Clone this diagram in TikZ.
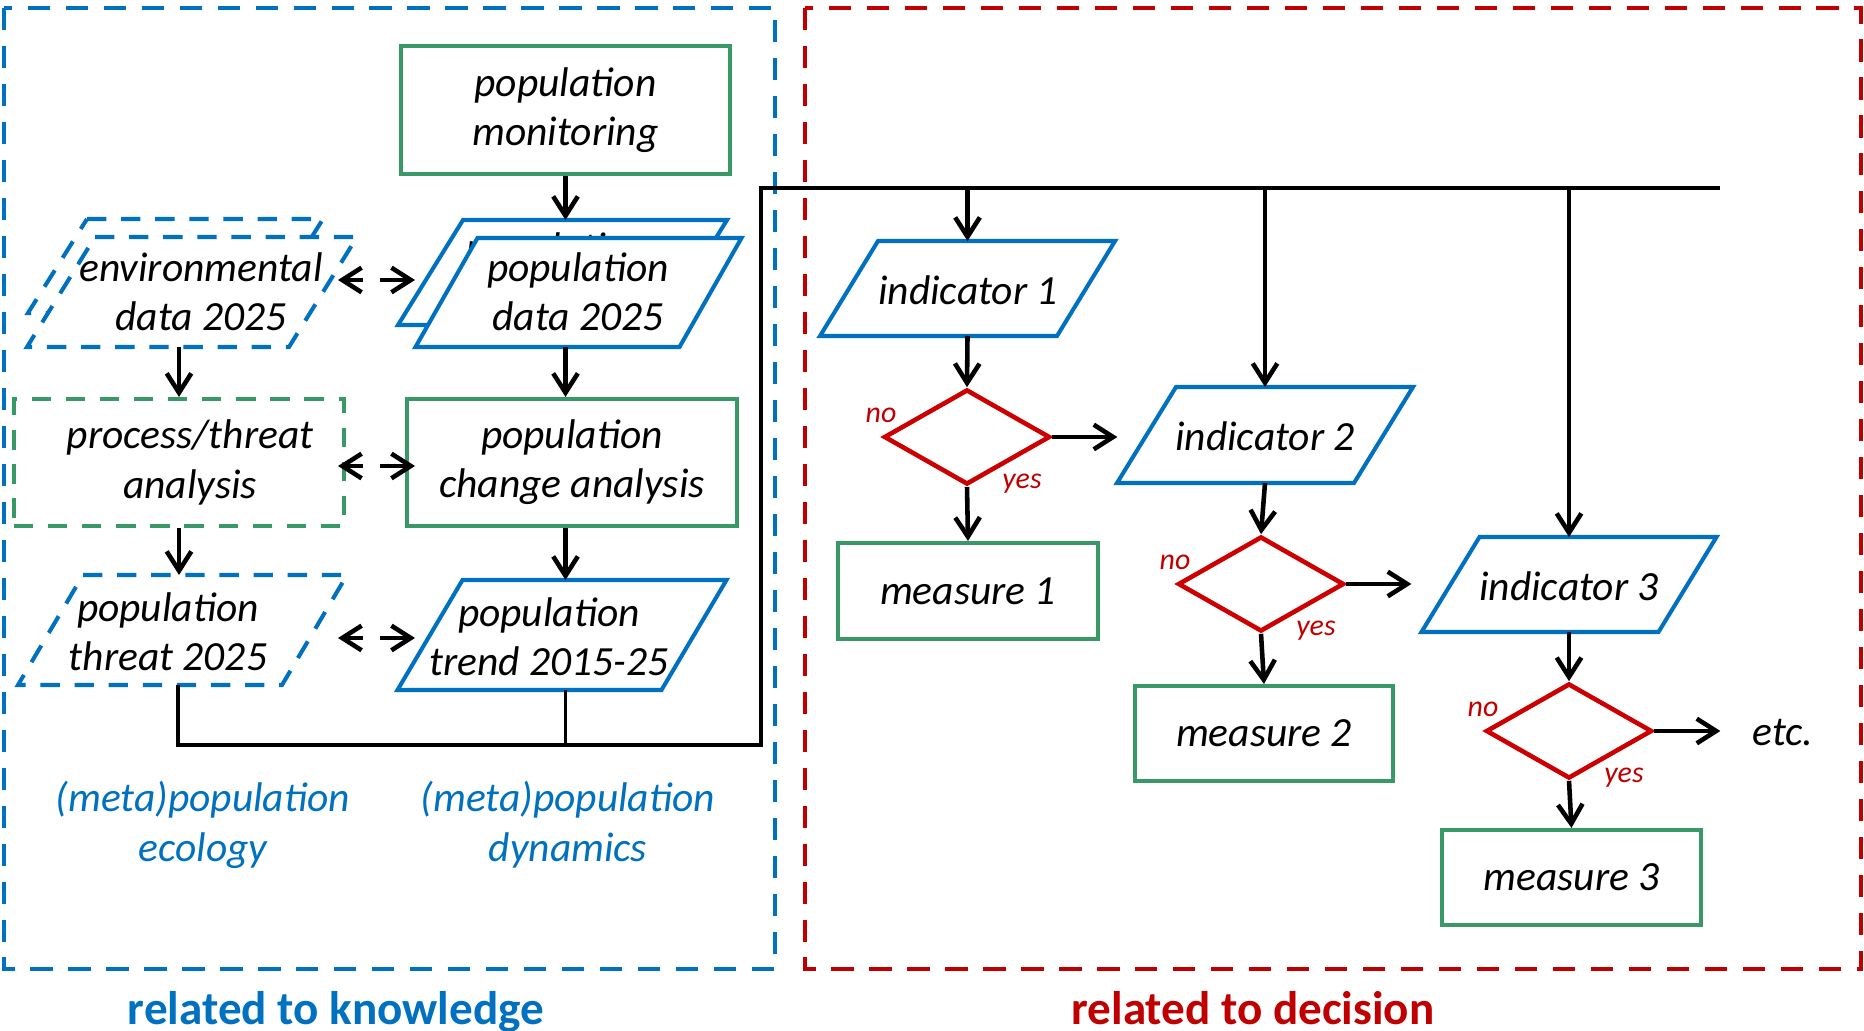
\documentclass[tikz,border=0pt]{standalone}
\usepackage{fontspec}
\setmainfont{Carlito}
\usetikzlibrary{shapes.geometric,arrows.meta,calc}

\definecolor{kblue}{RGB}{0,112,192}
\definecolor{kgreen}{RGB}{56,153,103}
\definecolor{kred}{RGB}{192,0,0}
\definecolor{dred}{RGB}{204,0,0}

% parallelogram: #1 style, #2 name, #3/#4 centre, #5 edge length, #6 height, #7 slant
\newcommand{\pgram}[7]{%
  \draw[#1] ({#3-#5/2+#7/2},{#4-#6/2}) -- ({#3+#5/2+#7/2},{#4-#6/2})
     -- ({#3+#5/2-#7/2},{#4+#6/2}) -- ({#3-#5/2-#7/2},{#4+#6/2}) -- cycle;
  \coordinate (#2-n) at ({#3},{#4-#6/2});
  \coordinate (#2-s) at ({#3},{#4+#6/2});
  \coordinate (#2-w) at ({#3-#5/2},{#4});
  \coordinate (#2-e) at ({#3+#5/2},{#4});
}

\tikzset{
  txt/.style={font=\fontsize{11.8}{14}\selectfont\itshape, align=center, inner sep=0pt},
  bl/.style={draw=kblue, line width=1.15pt, fill=white, line join=miter},
  bld/.style={bl, dash pattern=on 5.5pt off 4.2pt},
  gbox/.style={draw=kgreen, line width=1.15pt, fill=white, txt},
  gboxd/.style={gbox, dash pattern=on 5.5pt off 4.2pt},
  dia/.style={diamond, draw=dred, line width=1.3pt, inner sep=0pt, minimum width=1.66cm, minimum height=0.95cm},
  yn/.style={font=\fontsize{8.5}{10}\selectfont\itshape, text=kred, inner sep=0pt},
  arr/.style={line width=1.3pt, -{Straight Barb[length=5.5pt,width=7pt]}},
  bus/.style={line width=0.9pt},
  area/.style={line width=1.15pt, dash pattern=on 6.3pt off 4.5pt},
  lbl/.style={font=\fontsize{11.8}{14.3}\selectfont\itshape, align=center, text=kblue, inner sep=0pt},
  ttl/.style={font=\fontsize{13.4}{16}\selectfont\bfseries, anchor=base, inner sep=0pt}
}

\begin{document}
\begin{tikzpicture}[x=0.01cm, y=-0.01cm]
\useasboundingbox (0,0) rectangle (1864,1031);

% the two areas
\draw[area, draw=kblue] (4,8) rectangle (775,969);
\draw[area, draw=kred] (805,8) rectangle (1861,969);
\node[ttl, text=kblue] (tknow) at (336,1024) {related to knowledge};
\node[ttl, text=kred] (tdec) at (1253,1024) {related to decision};

% knowledge side
\node[gbox, minimum width=3.29cm, minimum height=1.28cm] (mon) at (565.5,110) {population\\monitoring};

\pgram{bl}{pdB}{562.5}{272.5}{264}{105}{65}
\node[txt] (pdBt) at (557,250) {population};
\pgram{bl}{pdF}{578.5}{292.5}{264}{109}{62}
\node[txt] (pdFt) at (578,292) {population\\data 2025};

\pgram{bld}{envB}{175.5}{266}{236}{94}{59}
\pgram{bld}{envF}{192}{292}{262}{110}{68}
\node[txt] (envt) at (201,292) {environmental\\data 2025};

\node[gboxd, minimum width=3.30cm, minimum height=1.27cm] (proc) at (179,462.5) {\hspace*{0.22cm}process/threat\\\hspace*{0.22cm}analysis};
\node[gbox, minimum width=3.30cm, minimum height=1.27cm] (chg) at (572,462.5) {population\\change analysis};

\pgram{bld}{thr}{182.5}{630}{264}{110}{65}
\node[txt] (thrt) at (168,632) {population\\threat 2025};
\pgram{bl}{trd}{562}{635}{264}{110}{65}
\node[txt] (trdt) at (549,637) {population\\trend 2015-25};

\node[lbl] (ecol) at (203,825) {(meta)population\\ecology};
\node[lbl] (dyn) at (568,825) {(meta)population\\dynamics};

% vertical flow on the knowledge side
\draw[arr] (mon.south) -- (mon.south |- pdB-n);
\draw[arr] (mon.south |- pdF-s) -- (mon.south |- chg.north);
\draw[arr] (mon.south |- chg.south) -- (mon.south |- trd-n);
\draw[arr] (proc.north |- envF-s) -- (proc.north);
\draw[arr] (proc.south) -- (proc.south |- thr-n);

% two-way links
\foreach \yy/\nm in {280/a, 466/b, 638/c}{
  \coordinate (u\nm) at (363,\yy);
  \coordinate (v\nm) at (380,\yy);
  \draw[arr] (u\nm) -- ++(-25,0);
  \draw[arr] (v\nm) -- ++(35,0);
}

% collecting line towards the indicators
\coordinate (cBL) at (178,745);
\coordinate (cBR) at (761,745);
\coordinate (cTR) at (761,188);
\coordinate (busEnd) at (1720,188);
\draw[bus] (cBL |- thr-s) -- (cBL) -- (cBR) -- (cTR) -- (busEnd);
\draw[bus] (mon.south |- trd-s) -- (mon.south |- cBL);

% decision side
\pgram{bl}{i1}{967.5}{288.5}{237}{95}{58}
\node[txt] (i1t) at (968,290) {indicator 1};
\pgram{bl}{i2}{1265}{435}{237}{96}{59}
\node[txt] (i2t) at (1265,436) {indicator 2};
\pgram{bl}{i3}{1569}{584.5}{237}{95}{58}
\node[txt] (i3t) at (1569,586) {indicator 3};

\node[dia] (d1) at (967,437) {};
\node[dia] (d2) at (1261,584) {};
\node[dia] (d3) at (1569,731) {};

\node[gbox, minimum width=2.60cm, minimum height=0.96cm] (m1) at (968,591) {measure 1};
\node[gbox, minimum width=2.58cm, minimum height=0.95cm] (m2) at (1264,733.5) {measure 2};
\node[gbox, minimum width=2.59cm, minimum height=0.95cm] (m3) at (1571.5,877.5) {measure 3};
\node[txt] (etc) at (1783,733) {etc.};

\foreach \d in {d1,d2,d3}{
  \node[yn] (no\d) at ($(\d)+(-86,-22)$) {no};
  \node[yn] (yes\d) at ($(\d)+(55,47)$) {yes};
}

\draw[arr] (i1-n |- busEnd) -- (i1-n);
\draw[arr] (i2-n |- busEnd) -- (i2-n);
\draw[arr] (i3-n |- busEnd) -- (i3-n);

\draw[arr] (i1-s) -- (d1.north);
\draw[arr] (i2-s) -- (d2.north);
\draw[arr] (i3-s) -- (d3.north);

\draw[arr] (d1.south) -- (m1.north);
\draw[arr] (d2.south) -- (m2.north);
\draw[arr] (d3.south) -- (m3.north);

\draw[arr] (d1.east) -- ++(65,0);
\draw[arr] (d2.east) -- ++(65,0);
\draw[arr] (d3.east) -- ++(66,0);
\end{tikzpicture}
\end{document}
